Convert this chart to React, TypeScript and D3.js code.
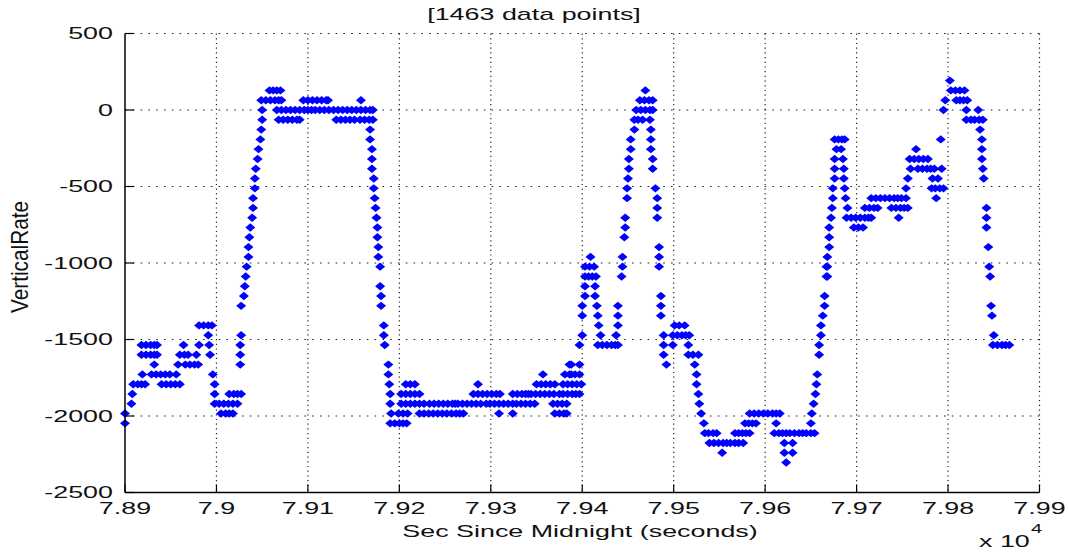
import React from "react";
import * as d3 from "d3";

const W = 1068;
const H = 552;
const SX = 1.68; // horizontal stretch of text seen in the reference

const xTicks = [78900, 79000, 79100, 79200, 79300, 79400, 79500, 79600, 79700, 79800, 79900];
const xTickLabels = ["7.89", "7.9", "7.91", "7.92", "7.93", "7.94", "7.95", "7.96", "7.97", "7.98", "7.99"];
const yTicks = [-2500, -2000, -1500, -1000, -500, 0, 500];
const yTickLabels = ["-2500", "-2000", "-1500", "-1000", "-500", "0", "500"];

const titleText = "[1463 data points]";
const xLabelText = "Sec Since Midnight (seconds)";
const yLabelText = "VerticalRate";

// [time (s since midnight), vertical rate]
const samples: [number, number][] = [
  [78900, -1984], [78900, -2048], [78907, -1920], [78908, -1856],
  [78909, -1792], [78914, -1792], [78918, -1792], [78922, -1792],
  [78919, -1728],
  [78918, -1536], [78923, -1536], [78928, -1536], [78932, -1536], [78935, -1536],
  [78918, -1600], [78923, -1600], [78928, -1600], [78932, -1600], [78935, -1600],
  [78932, -1664],
  [78929, -1728], [78934, -1728], [78939, -1728], [78944, -1728], [78949, -1728],
  [78940, -1792], [78945, -1792], [78950, -1792], [78955, -1792], [78960, -1792],
  [78956, -1728], [78958, -1664], [78964, -1536],
  [78960, -1600], [78965, -1600], [78969, -1600],
  [78966, -1664], [78971, -1664], [78976, -1664], [78980, -1664],
  [78978, -1600], [78981, -1536],
  [78981, -1408], [78986, -1408], [78991, -1408], [78995, -1408],
  [78991, -1472], [78992, -1536], [78993, -1600], [78996, -1728], [78998, -1792], [78998, -1856],
  [78998, -1920], [79003, -1920], [79008, -1920], [79013, -1920], [79018, -1920], [79023, -1920],
  [79005, -1984], [79010, -1984], [79014, -1984], [79018, -1984],
  [79014, -1856], [79019, -1856], [79023, -1856], [79027, -1856],
  [79026, -1664], [79026, -1600], [79026, -1536], [79027, -1472],
  [79027, -1280], [79030, -1216], [79031, -1152], [79032, -1088], [79033, -1024],
  [79035, -960], [79035, -896], [79036, -832], [79037, -768], [79039, -704],
  [79040, -640], [79040, -576], [79042, -512], [79042, -448], [79043, -384],
  [79045, -320], [79046, -256], [79048, -192], [79049, -128], [79050, -64], [79050, 0],
  // plateau near zero
  [79049, 64], [79054, 64], [79059, 64], [79064, 64], [79068, 64], [79071, 64],
  [79058, 128], [79062, 128], [79066, 128], [79070, 128],
  [79066, 0], [79071, 0], [79076, 0], [79081, 0], [79086, 0], [79091, 0], [79096, 0], [79100, 0], [79104, 0],
  [79108, 0], [79113, 0], [79118, 0], [79123, 0], [79128, 0], [79133, 0], [79138, 0], [79143, 0],
  [79148, 0], [79153, 0], [79158, 0], [79163, 0], [79168, 0], [79171, 0],
  [79068, -64], [79073, -64], [79078, -64], [79083, -64], [79088, -64], [79091, -64],
  [79131, -64], [79136, -64], [79141, -64], [79146, -64], [79151, -64],
  [79157, -64], [79162, -64], [79167, -64], [79171, -64],
  [79095, 64], [79100, 64], [79105, 64], [79110, 64], [79115, 64], [79120, 64], [79122, 64],
  [79158, 64],
  // descent
  [79168, -128], [79168, -192], [79170, -256], [79170, -320], [79170, -384], [79172, -448],
  [79172, -512], [79173, -576], [79174, -640], [79175, -704], [79176, -768], [79176, -832],
  [79177, -896], [79177, -960], [79179, -1024], [79179, -1152], [79180, -1216], [79180, -1280],
  [79183, -1408], [79183, -1472], [79184, -1536], [79188, -1664], [79188, -1728], [79189, -1792],
  [79190, -1856], [79190, -1920], [79191, -1984],
  [79190, -2048], [79195, -2048], [79200, -2048], [79204, -2048], [79208, -2048],
  [79199, -1984], [79204, -1984], [79209, -1984],
  [79207, -1792], [79212, -1792], [79217, -1792],
  [79202, -1856], [79207, -1856], [79212, -1856], [79217, -1856], [79222, -1856],
  // long low segment
  [79202, -1920], [79207, -1920], [79212, -1920], [79217, -1920], [79222, -1920], [79227, -1920],
  [79233, -1920], [79238, -1920], [79243, -1920], [79248, -1920], [79253, -1920], [79258, -1920], [79261, -1920],
  [79264, -1920], [79269, -1920], [79274, -1920], [79279, -1920], [79284, -1920], [79289, -1920], [79295, -1920],
  [79299, -1920], [79304, -1920], [79309, -1920], [79314, -1920], [79319, -1920], [79324, -1920],
  [79328, -1920], [79333, -1920], [79338, -1920], [79343, -1920], [79348, -1920],
  [79222, -1984], [79227, -1984], [79232, -1984], [79237, -1984], [79242, -1984], [79247, -1984],
  [79252, -1984], [79257, -1984], [79262, -1984], [79266, -1984], [79270, -1984],
  [79309, -1984], [79324, -1984],
  [79370, -1984], [79375, -1984], [79380, -1984], [79383, -1984],
  [79281, -1856], [79286, -1856], [79291, -1856], [79296, -1856], [79301, -1856], [79306, -1856], [79310, -1856],
  [79324, -1856], [79329, -1856], [79334, -1856], [79338, -1856], [79341, -1856],
  [79344, -1856], [79349, -1856], [79354, -1856], [79359, -1856], [79364, -1856], [79369, -1856], [79375, -1856],
  [79379, -1856], [79384, -1856], [79389, -1856], [79393, -1856], [79397, -1856],
  [79286, -1792],
  [79350, -1792], [79355, -1792], [79360, -1792], [79365, -1792], [79370, -1792],
  [79379, -1792], [79384, -1792], [79389, -1792], [79394, -1792], [79399, -1792],
  [79357, -1728], [79381, -1728], [79386, -1728], [79392, -1728], [79397, -1728],
  [79386, -1664], [79397, -1664],
  [79368, -1920], [79373, -1920], [79378, -1920], [79383, -1920],
  // first climb and spike
  [79388, -1664], [79388, -1728],
  [79397, -1536], [79400, -1472], [79400, -1344], [79400, -1280], [79403, -1216], [79403, -1152],
  [79403, -1088], [79407, -1088], [79411, -1088], [79415, -1088],
  [79403, -1024], [79408, -1024], [79413, -1024],
  [79409, -960],
  [79414, -1152], [79414, -1216], [79416, -1280], [79417, -1344], [79418, -1408], [79420, -1472],
  [79417, -1536], [79422, -1536], [79427, -1536], [79432, -1536], [79436, -1536], [79439, -1536],
  [79437, -1472], [79439, -1408], [79439, -1344], [79439, -1280],
  [79443, -1088], [79444, -1024], [79444, -960], [79446, -832], [79447, -768], [79447, -704],
  [79449, -576], [79449, -512], [79450, -448], [79451, -384], [79451, -320], [79453, -256],
  [79453, -192], [79457, -128],
  [79457, -64], [79461, -64], [79466, -64],
  [79459, 0], [79464, 0], [79469, 0], [79474, 0], [79477, 0],
  [79463, 64], [79468, 64], [79473, 64], [79477, 64],
  [79469, 128],
  [79474, -64], [79475, -128], [79475, -192], [79475, -256], [79477, -320], [79477, -384],
  [79480, -512], [79482, -576], [79482, -640], [79482, -704], [79484, -896], [79484, -960],
  [79484, -1024], [79486, -1216], [79486, -1280], [79486, -1344], [79489, -1472], [79489, -1536],
  [79489, -1600], [79492, -1664],
  [79499, -1536],
  [79501, -1408], [79506, -1408], [79512, -1408],
  [79499, -1472], [79504, -1472], [79509, -1472], [79513, -1472], [79517, -1472],
  [79516, -1536],
  [79516, -1600], [79521, -1600], [79527, -1600],
  [79523, -1664], [79525, -1728],
  // trough
  [79525, -1792], [79527, -1856], [79528, -1920], [79530, -1984], [79533, -2048],
  [79534, -2112], [79538, -2112], [79543, -2112], [79547, -2112],
  [79539, -2176], [79544, -2176], [79549, -2176], [79554, -2176],
  [79553, -2240],
  [79558, -2176], [79562, -2176], [79567, -2176], [79571, -2176], [79576, -2176],
  [79567, -2112], [79571, -2112], [79575, -2112], [79579, -2112], [79583, -2112],
  [79578, -2048], [79582, -2048], [79586, -2048], [79590, -2048],
  [79583, -1984], [79588, -1984], [79593, -1984], [79598, -1984], [79603, -1984], [79608, -1984], [79612, -1984], [79616, -1984],
  [79612, -2048],
  [79610, -2112], [79615, -2112], [79619, -2112], [79623, -2112],
  [79621, -2176], [79630, -2176], [79621, -2240], [79630, -2240], [79623, -2304],
  [79627, -2112], [79632, -2112], [79637, -2112], [79641, -2112], [79645, -2112], [79650, -2112], [79654, -2112],
  [79650, -2048], [79651, -1984], [79653, -1920], [79655, -1856], [79656, -1792], [79657, -1728],
  [79659, -1600], [79659, -1536], [79661, -1472], [79661, -1408], [79663, -1344], [79665, -1280],
  [79665, -1216], [79667, -1088], [79667, -1024],
  // second climb
  [79668, -1088], [79668, -1024], [79668, -960], [79670, -896], [79670, -832], [79670, -768],
  [79672, -704], [79673, -640], [79674, -576], [79674, -512], [79676, -448], [79676, -384],
  [79676, -320], [79678, -256],
  [79676, -192], [79680, -192], [79684, -192], [79687, -192],
  [79683, -256], [79685, -320], [79686, -384], [79686, -448], [79687, -512], [79688, -576], [79690, -640],
  [79689, -704], [79694, -704], [79699, -704], [79704, -704], [79709, -704], [79713, -704], [79716, -704],
  [79697, -768], [79702, -768], [79707, -768],
  [79709, -640], [79714, -640], [79719, -640], [79723, -640],
  [79716, -576], [79721, -576], [79726, -576], [79731, -576], [79736, -576], [79741, -576], [79745, -576], [79749, -576],
  [79738, -640], [79743, -640], [79748, -640], [79752, -640], [79756, -640],
  [79746, -704],
  [79754, -576], [79754, -512], [79756, -448], [79759, -384],
  [79758, -320], [79763, -320], [79768, -320], [79773, -320], [79778, -320],
  [79765, -256],
  [79767, -384], [79772, -384], [79777, -384], [79781, -384], [79785, -384],
  [79783, -448],
  [79782, -512], [79786, -512], [79791, -512], [79795, -512],
  [79787, -576], [79789, -448], [79793, -384],
  [79792, -192], [79795, 0], [79797, 64], [79802, 192],
  [79803, 128], [79808, 128], [79813, 128], [79818, 128],
  [79809, 64], [79813, 64], [79817, 64], [79821, 64],
  [79820, 0], [79833, 0],
  [79820, -64], [79825, -64], [79829, -64], [79834, -64], [79838, -64],
  [79835, -128], [79837, -192], [79837, -256], [79837, -320], [79838, -384], [79839, -448],
  [79842, -640], [79842, -704], [79842, -768], [79844, -896], [79845, -1024], [79846, -1088],
  [79847, -1280], [79848, -1344], [79850, -1472],
  [79849, -1536], [79854, -1536], [79859, -1536], [79863, -1536], [79867, -1536],
];

const M = { left: 125, right: 1039.5, top: 33.5, bottom: 492.5 };
const FONT = "'Liberation Sans', Arial, Helvetica, sans-serif";

function SText(props: {
  x: number; y: number; anchor?: string; size?: number; children: React.ReactNode;
  sx?: number; sy?: number; rotate?: number;
}) {
  const { x, y, anchor = "middle", size = 16, children, sx = SX, sy = 1, rotate } = props;
  const t = `translate(${x},${y}) scale(${sx},${sy})` + (rotate ? ` rotate(${rotate})` : "");
  return (
    <text transform={t} textAnchor={anchor} fontFamily={FONT} fontSize={size} fill="#111">
      {children}
    </text>
  );
}

export default function App() {
  const x = d3.scaleLinear().domain([78900, 79900]).range([M.left, M.right]);
  const y = d3.scaleLinear().domain([-2500, 500]).range([M.bottom, M.top]);
  const diamond = "M0,-4.2L5,0L0,4.2L-5,0Z";

  return (
    <div style={{ position: "absolute", left: 0, top: 0 }}>
      <svg width={W} height={H} style={{ display: "block", background: "#fff" }}>
        {/* grid */}
        {xTicks.slice(1).map((t) => (
          <line key={"gx" + t} x1={x(t)} x2={x(t)} y1={M.top} y2={M.bottom}
            stroke="#222" strokeWidth={1.2} strokeDasharray="1.2,3.5" />
        ))}
        {yTicks.slice(1).map((t) => (
          <line key={"gy" + t} x1={M.left} x2={M.right} y1={y(t)} y2={y(t)}
            stroke="#222" strokeWidth={1.2} strokeDasharray="1.6,6.2" />
        ))}
        {/* points */}
        <g fill="#0000ff">
          {samples.map((d, i) => (
            <path key={i} d={diamond} transform={`translate(${x(d[0])},${y(d[1])})`} />
          ))}
        </g>
        {/* axes */}
        <line x1={M.left} x2={M.left} y1={M.top} y2={M.bottom} stroke="#000" strokeWidth={1.5} />
        <line x1={M.left} x2={M.right} y1={M.bottom} y2={M.bottom} stroke="#000" strokeWidth={1.5} />
        {xTicks.map((t) => (
          <line key={"tx" + t} x1={x(t)} x2={x(t)} y1={M.bottom} y2={M.bottom - 8} stroke="#000" strokeWidth={1.2} />
        ))}
        {yTicks.map((t) => (
          <line key={"ty" + t} x1={M.left} x2={M.left + 9} y1={y(t)} y2={y(t)} stroke="#000" strokeWidth={1.2} />
        ))}
        {/* tick labels */}
        {xTicks.map((t, i) => (
          <SText key={"lx" + t} x={x(t)} y={M.bottom + 21}>{xTickLabels[i]}</SText>
        ))}
        {yTicks.map((t, i) => (
          <SText key={"ly" + t} x={113} y={y(t) + 5.8} anchor="end">{yTickLabels[i]}</SText>
        ))}
        {/* titles */}
        <SText x={534} y={20}>{titleText}</SText>
        <SText x={580} y={537}>{xLabelText}</SText>
        <SText x={28} y={257} sx={1.45} sy={1.3} rotate={-90}>{yLabelText}</SText>
        <SText x={979} y={547} anchor="start">x 10</SText>
        <SText x={1031} y={533} anchor="start" size={12}>4</SText>
      </svg>
    </div>
  );
}
